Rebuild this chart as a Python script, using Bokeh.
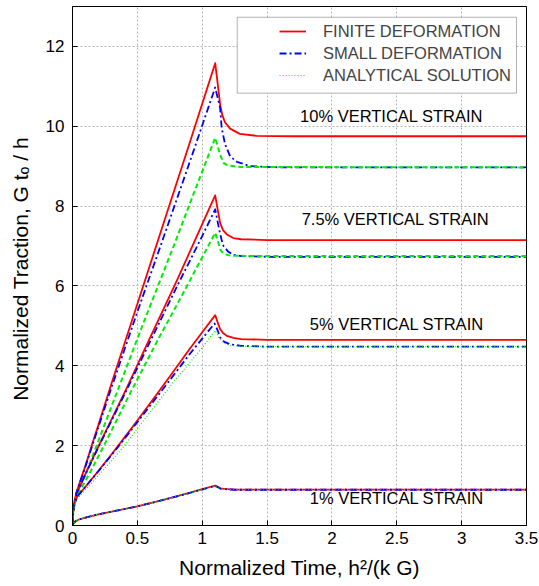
from bokeh.plotting import figure
from bokeh.models import Range1d, Legend, LegendItem, BoxAnnotation, ColumnDataSource, FixedTicker
from bokeh.core.properties import value
from bokeh.embed import file_html
from bokeh.resources import INLINE

# ---------------- data ----------------
x_ticks = [0, 0.5, 1, 1.5, 2, 2.5, 3, 3.5]
x_tick_labels = ["0", "0.5", "1", "1.5", "2", "2.5", "3", "3.5"]
y_ticks = [0, 2, 4, 6, 8, 10, 12]
y_tick_labels = ["0", "2", "4", "6", "8", "10", "12"]

# 10% vertical strain
fin10_x = [0, 0.005, 0.015, 0.03, 0.06, 0.1, 0.15, 0.2, 0.3, 0.5, 0.7, 0.9, 1.1,
           1.12, 1.14, 1.155, 1.175, 1.215, 1.29, 1.42, 1.7, 3.5]
fin10_y = [0, 0.35, 0.6, 0.82, 1.12, 1.5, 2.02, 2.52, 3.55, 5.55, 7.55, 9.55, 11.58,
           11.05, 10.5, 10.28, 10.1, 9.94, 9.81, 9.76, 9.75, 9.75]
sml10_x = [0, 0.005, 0.015, 0.03, 0.06, 0.1, 0.15, 0.2, 0.3, 0.5, 0.7, 0.9, 1.1,
           1.138, 1.15, 1.177, 1.215, 1.267, 1.37, 1.6, 3.5]
sml10_y = [0, 0.35, 0.6, 0.82, 1.1, 1.48, 1.98, 2.47, 3.45, 5.35, 7.2, 9.07, 10.97,
           10.46, 9.96, 9.54, 9.25, 9.11, 9.0, 8.97, 8.97]
ana10_x = [0, 0.005, 0.015, 0.03, 0.07, 0.12, 0.18, 0.25, 0.35, 0.55, 0.78, 0.95, 1.1,
           1.138, 1.164, 1.2, 1.3, 3.5]
ana10_y = [0, 0.3, 0.55, 0.75, 1.05, 1.45, 1.95, 2.55, 3.4, 5.1, 7.0, 8.45, 9.71,
           9.29, 9.08, 9.02, 8.98, 8.97]

# 7.5% vertical strain
fin75_x = [0, 0.005, 0.015, 0.03, 0.08, 0.13, 0.21, 0.3, 0.415, 0.6, 0.8, 1.0, 1.1,
           1.12, 1.138, 1.16, 1.19, 1.24, 1.3, 1.5, 3.5]
fin75_y = [0, 0.35, 0.58, 0.78, 1.15, 1.5, 2.05, 2.65, 3.42, 4.72, 6.1, 7.55, 8.27,
           7.9, 7.58, 7.4, 7.29, 7.2, 7.17, 7.15, 7.15]
sml75_x = [0, 0.005, 0.015, 0.03, 0.08, 0.13, 0.21, 0.3, 0.415, 0.6, 0.8, 1.0, 1.1,
           1.133, 1.15, 1.164, 1.2, 1.24, 1.3, 1.5, 3.5]
sml75_y = [0, 0.35, 0.58, 0.78, 1.14, 1.49, 2.03, 2.62, 3.38, 4.62, 5.95, 7.25, 7.92,
           7.38, 7.15, 7.0, 6.86, 6.78, 6.75, 6.73, 6.73]
ana75_x = [0, 0.005, 0.015, 0.03, 0.08, 0.15, 0.25, 0.45, 0.65, 0.85, 1.0, 1.1,
           1.144, 1.17, 1.215, 1.4, 3.5]
ana75_y = [0, 0.3, 0.52, 0.7, 1.0, 1.42, 2.05, 3.35, 4.6, 5.8, 6.72, 7.33,
           6.88, 6.8, 6.76, 6.75, 6.75]

# 5% vertical strain
fin5_x = [0, 0.005, 0.015, 0.035, 0.1, 0.2, 0.3, 0.4, 0.5, 0.6, 0.75, 0.9, 1.0, 1.1,
          1.12, 1.138, 1.16, 1.19, 1.24, 1.3, 1.5, 3.5]
fin5_y = [0, 0.33, 0.55, 0.72, 0.97, 1.37, 1.78, 2.2, 2.63, 3.07, 3.73, 4.41, 4.84, 5.27,
          5.08, 4.92, 4.82, 4.75, 4.7, 4.67, 4.65, 4.65]
sml5_x = [0, 0.005, 0.015, 0.035, 0.1, 0.2, 0.3, 0.4, 0.5, 0.6, 0.75, 0.9, 1.0, 1.095,
          1.12, 1.138, 1.17, 1.215, 1.3, 1.5, 3.5]
sml5_y = [0, 0.33, 0.55, 0.72, 0.97, 1.36, 1.76, 2.17, 2.59, 3.01, 3.64, 4.28, 4.68, 5.06,
          4.88, 4.71, 4.6, 4.54, 4.5, 4.48, 4.48]
ana5_x = [0, 0.005, 0.015, 0.035, 0.1, 0.2, 0.3, 0.4, 0.6, 0.8, 1.0, 1.1,
          1.13, 1.164, 1.2, 1.3, 1.5, 3.5]
ana5_y = [0, 0.3, 0.5, 0.66, 0.9, 1.25, 1.62, 2.0, 2.85, 3.68, 4.45, 4.88,
          4.7, 4.58, 4.52, 4.49, 4.48, 4.48]

# 1% vertical strain
one_x = [0, 0.005, 0.02, 0.05, 0.1, 0.2, 0.35, 0.5, 0.7, 0.9, 1.0, 1.1, 1.12, 1.14, 1.17, 1.25, 3.5]
fin1_y = [0, 0.05, 0.1, 0.15, 0.2, 0.28, 0.38, 0.48, 0.64, 0.82, 0.91, 1.0, 0.97, 0.93, 0.915, 0.9, 0.9]
sml1_y = [0, 0.05, 0.1, 0.15, 0.2, 0.28, 0.38, 0.48, 0.64, 0.81, 0.9, 0.99, 0.96, 0.925, 0.91, 0.895, 0.895]
ana1_y = [0, 0.05, 0.1, 0.15, 0.2, 0.28, 0.38, 0.48, 0.64, 0.81, 0.9, 0.98, 0.95, 0.92, 0.905, 0.895, 0.895]

series_labels = ["FINITE DEFORMATION", "SMALL DEFORMATION", "ANALYTICAL SOLUTION"]
strain_labels = ["10% VERTICAL STRAIN", "7.5% VERTICAL STRAIN", "5% VERTICAL STRAIN", "1% VERTICAL STRAIN"]
strain_label_x = [2.46, 2.49, 2.5, 2.5]
strain_label_y = [10.25, 7.68, 5.05, 0.7]

# ---------------- figure ----------------
FONT = "Liberation Sans"
p = figure(width=539, height=586, output_backend="svg", toolbar_location=None,
           x_range=Range1d(0, 3.5), y_range=Range1d(0, 13),
           min_border_left=72, min_border_right=13, min_border_top=6, min_border_bottom=61)
p.background_fill_color = "white"
p.border_fill_color = "white"
p.outline_line_color = "black"
p.outline_line_width = 1

for ax, ticks, labels in ((p.xaxis[0], x_ticks, x_tick_labels), (p.yaxis[0], y_ticks, y_tick_labels)):
    ax.ticker = FixedTicker(ticks=ticks)
    ax.major_label_overrides = {t: l for t, l in zip(ticks, labels)}
    ax.major_tick_in = 5
    ax.major_tick_out = 0
    ax.minor_tick_line_color = None
    ax.axis_line_color = "black"
    ax.major_label_text_font = FONT
    ax.major_label_text_font_size = "17px"
    ax.major_label_text_color = "black"
    ax.axis_label_text_font = FONT
    ax.axis_label_text_font_size = "21px"
    ax.axis_label_text_font_style = "normal"
    ax.axis_label_text_color = "black"

p.xaxis.axis_label = "Normalized Time, h\u00b2/(k G)"
p.yaxis.axis_label = "Normalized Traction, G  t\u2092 / h"
p.xaxis.major_label_standoff = 6
p.yaxis.major_label_standoff = 8
p.xaxis.axis_label_standoff = 9
p.yaxis.axis_label_standoff = 11

for g in (p.xgrid[0], p.ygrid[0]):
    g.grid_line_color = "#b4b4b4"
    g.grid_line_dash = "2 2"
    g.grid_line_width = 1

RED = "#ff0000"
BLUE = "#0000ff"
GREEN = "#00ee00"

curves = [
    (fin10_x, fin10_y, sml10_x, sml10_y, ana10_x, ana10_y, "5 3", 2.0),
    (fin75_x, fin75_y, sml75_x, sml75_y, ana75_x, ana75_y, "5 3", 2.0),
    (fin5_x, fin5_y, sml5_x, sml5_y, ana5_x, ana5_y, "1 2", 1.2),
    (one_x, fin1_y, one_x, sml1_y, one_x, ana1_y, "1 2", 1.2),
]
r_fin = r_sml = r_ana = None
for fx, fy, sx, sy, ax_, ay, gdash, gw in curves:
    rf = p.line(fx, fy, line_color=RED, line_width=1.8, line_join="round")
    rs = p.line(sx, sy, line_color=BLUE, line_width=1.8, line_dash="7 3 2 3", line_join="round")
    ra = p.line(ax_, ay, line_color=GREEN, line_width=gw, line_dash=gdash, line_join="round")
    if r_fin is None:
        r_fin, r_sml = rf, rs
    if gw < 1.5 and r_ana is None:
        r_ana = ra

src = ColumnDataSource(dict(x=strain_label_x, y=strain_label_y, t=strain_labels))
p.text(x="x", y="y", text="t", source=src, text_align="center", text_baseline="middle",
       text_font=value(FONT), text_font_size="16.5px", text_color="black")

box = BoxAnnotation(left=1.27, right=3.423, bottom=10.83, top=12.73,
                    fill_color="white", fill_alpha=1.0, line_color="black", line_width=1)
p.add_layout(box)

legend = Legend(items=[LegendItem(label=series_labels[0], renderers=[r_fin]),
                       LegendItem(label=series_labels[1], renderers=[r_sml]),
                       LegendItem(label=series_labels[2], renderers=[r_ana])],
                location="top_right", margin=15, padding=6, spacing=2,
                glyph_width=27, glyph_height=20, label_height=20, label_standoff=17,
                label_text_font=FONT, label_text_font_size="16.5px",
                border_line_color=None, background_fill_alpha=0.0)
p.add_layout(legend)

open("out.html", "w").write(file_html(p, INLINE))
